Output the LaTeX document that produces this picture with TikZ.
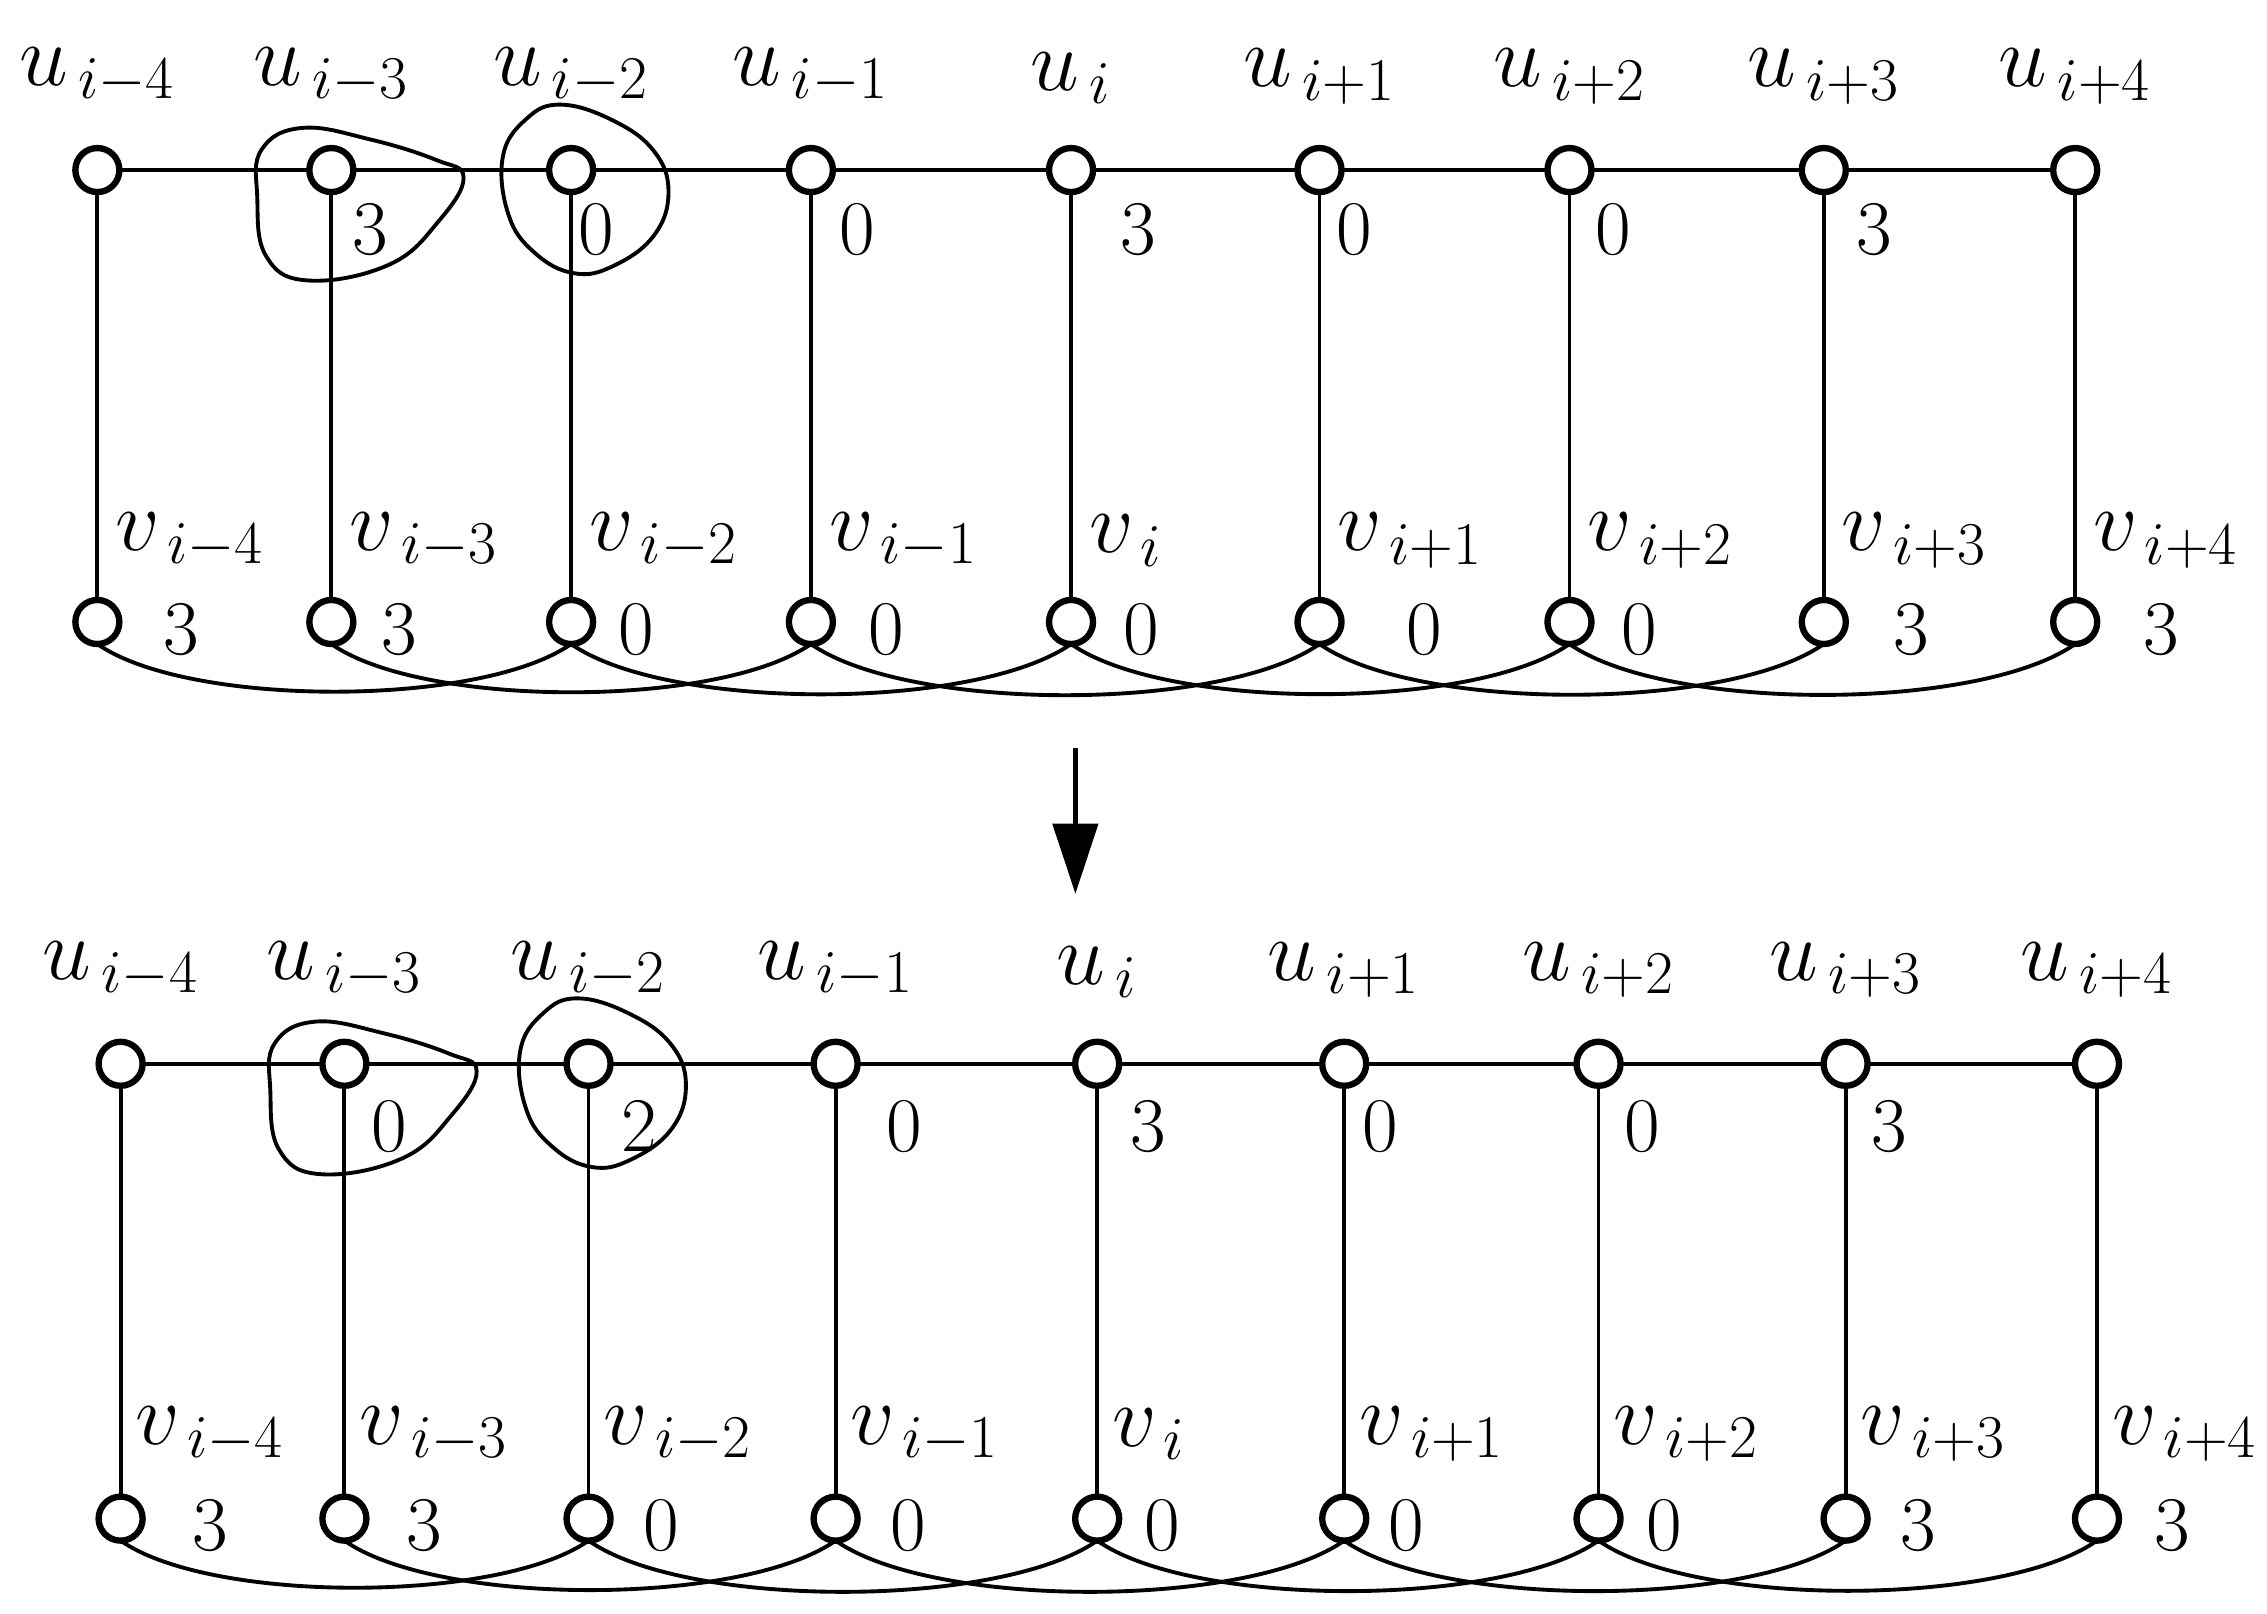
\documentclass[tikz,border=0pt]{standalone}
\usetikzlibrary{arrows.meta}
\begin{document}
\begin{tikzpicture}[x=0.01453cm,y=-0.01453cm,
  vtx/.style={circle,draw,line width=1.8pt,minimum size=0.44cm,inner sep=0pt,fill=white},
  lbl/.style={font=\fontsize{26}{30}\selectfont,inner sep=0pt},
  num/.style={font=\fontsize{22}{26}\selectfont,inner sep=0pt},
  edge/.style={line width=1.1pt},
  blob/.style={line width=1.1pt}]
\useasboundingbox (0,0) rectangle (1560,1110);
\def\subs{{"i-4","i-3","i-2","i-1","i","i+1","i+2","i+3","i+4"}}
\foreach \x [count=\k from 0] in {67,228,393,558,737,908,1080,1255,1428}{
  \coordinate (ut\k) at (\x,117);
  \coordinate (vt\k) at (\x,428);
  \pgfmathsetmacro{\s}{\subs[\k]}
  \node[lbl,anchor=south] (lut\k) at (\x,72) {$u_{\,\s}$};
  \node[lbl,anchor=west] (lvt\k) at (\x+12,372) {$v_{\,\s}$};
}
\foreach \x [count=\k from 0] in {83,237,405,575,755,925,1100,1270,1443}{
  \coordinate (ub\k) at (\x,732);
  \coordinate (vb\k) at (\x,1045);
  \pgfmathsetmacro{\s}{\subs[\k]}
  \node[lbl,anchor=south] (lub\k) at (\x,687) {$u_{\,\s}$};
  \node[lbl,anchor=west] (lvb\k) at (\x+10,987) {$v_{\,\s}$};
}
\foreach \g in {t,b}{
  \foreach \k [evaluate=\k as \n using int(\k+1)] in {0,...,7}{
    \draw[edge] (u\g\k) -- (u\g\n);
  }
  \foreach \k in {0,...,8}{
    \draw[edge] (u\g\k) -- (v\g\k);
  }
  \foreach \k [evaluate=\k as \n using int(\k+2)] in {0,...,6}{
    \draw[edge] ([yshift=-0.22cm]v\g\k) to[out=-35,in=-145,looseness=0.6] ([yshift=-0.22cm]v\g\n);
  }
  \foreach \k in {0,...,8}{
    \node[vtx] (nu\g\k) at (u\g\k) {};
    \node[vtx] (nv\g\k) at (v\g\k) {};
  }
}
\foreach \x/\t [count=\k] in {255/3,410/0,590/0,783/3,932/0,1110/0,1290/3}
  \node[num] (nut\k) at (\x,158) {\t};
\foreach \x/\t [count=\k] in {125/3,275/3,438/0,610/0,785/0,980/0,1128/0,1315/3,1487/3}
  \node[num] (nvt\k) at (\x,433) {\t};
\foreach \x/\t [count=\k] in {268/0,440/2,622/0,790/3,950/0,1130/0,1300/3}
  \node[num] (nub\k) at (\x,775) {\t};
\foreach \x/\t [count=\k] in {145/3,292/3,455/0,625/0,800/0,968/0,1145/0,1320/3,1495/3}
  \node[num] (nvb\k) at (\x,1050) {\t};
\foreach \dx/\dy in {0/0,9/615}{
  \draw[blob,shift={(\dx,\dy)}] plot[smooth cycle,tension=0.7] coordinates
   {(180,103) (208,88) (255,96) (300,110) (319,122) (302,152) (268,182) (212,193) (183,176) (177,135)};
}
\foreach \dx/\dy in {0/0,12/615}{
  \draw[blob,shift={(\dx,\dy)}] plot[smooth cycle,tension=0.7] coordinates
   {(346,108) (362,82) (386,72) (422,83) (450,104) (460,132) (450,162) (422,183) (395,188) (368,174) (350,148)};
}
\coordinate (a1) at (740,515);
\coordinate (a2) at (740,615);
\draw[line width=1.3pt,-{Triangle[width=0.45cm,length=0.7cm]}] (a1) -- (a2);
\end{tikzpicture}
\end{document}
